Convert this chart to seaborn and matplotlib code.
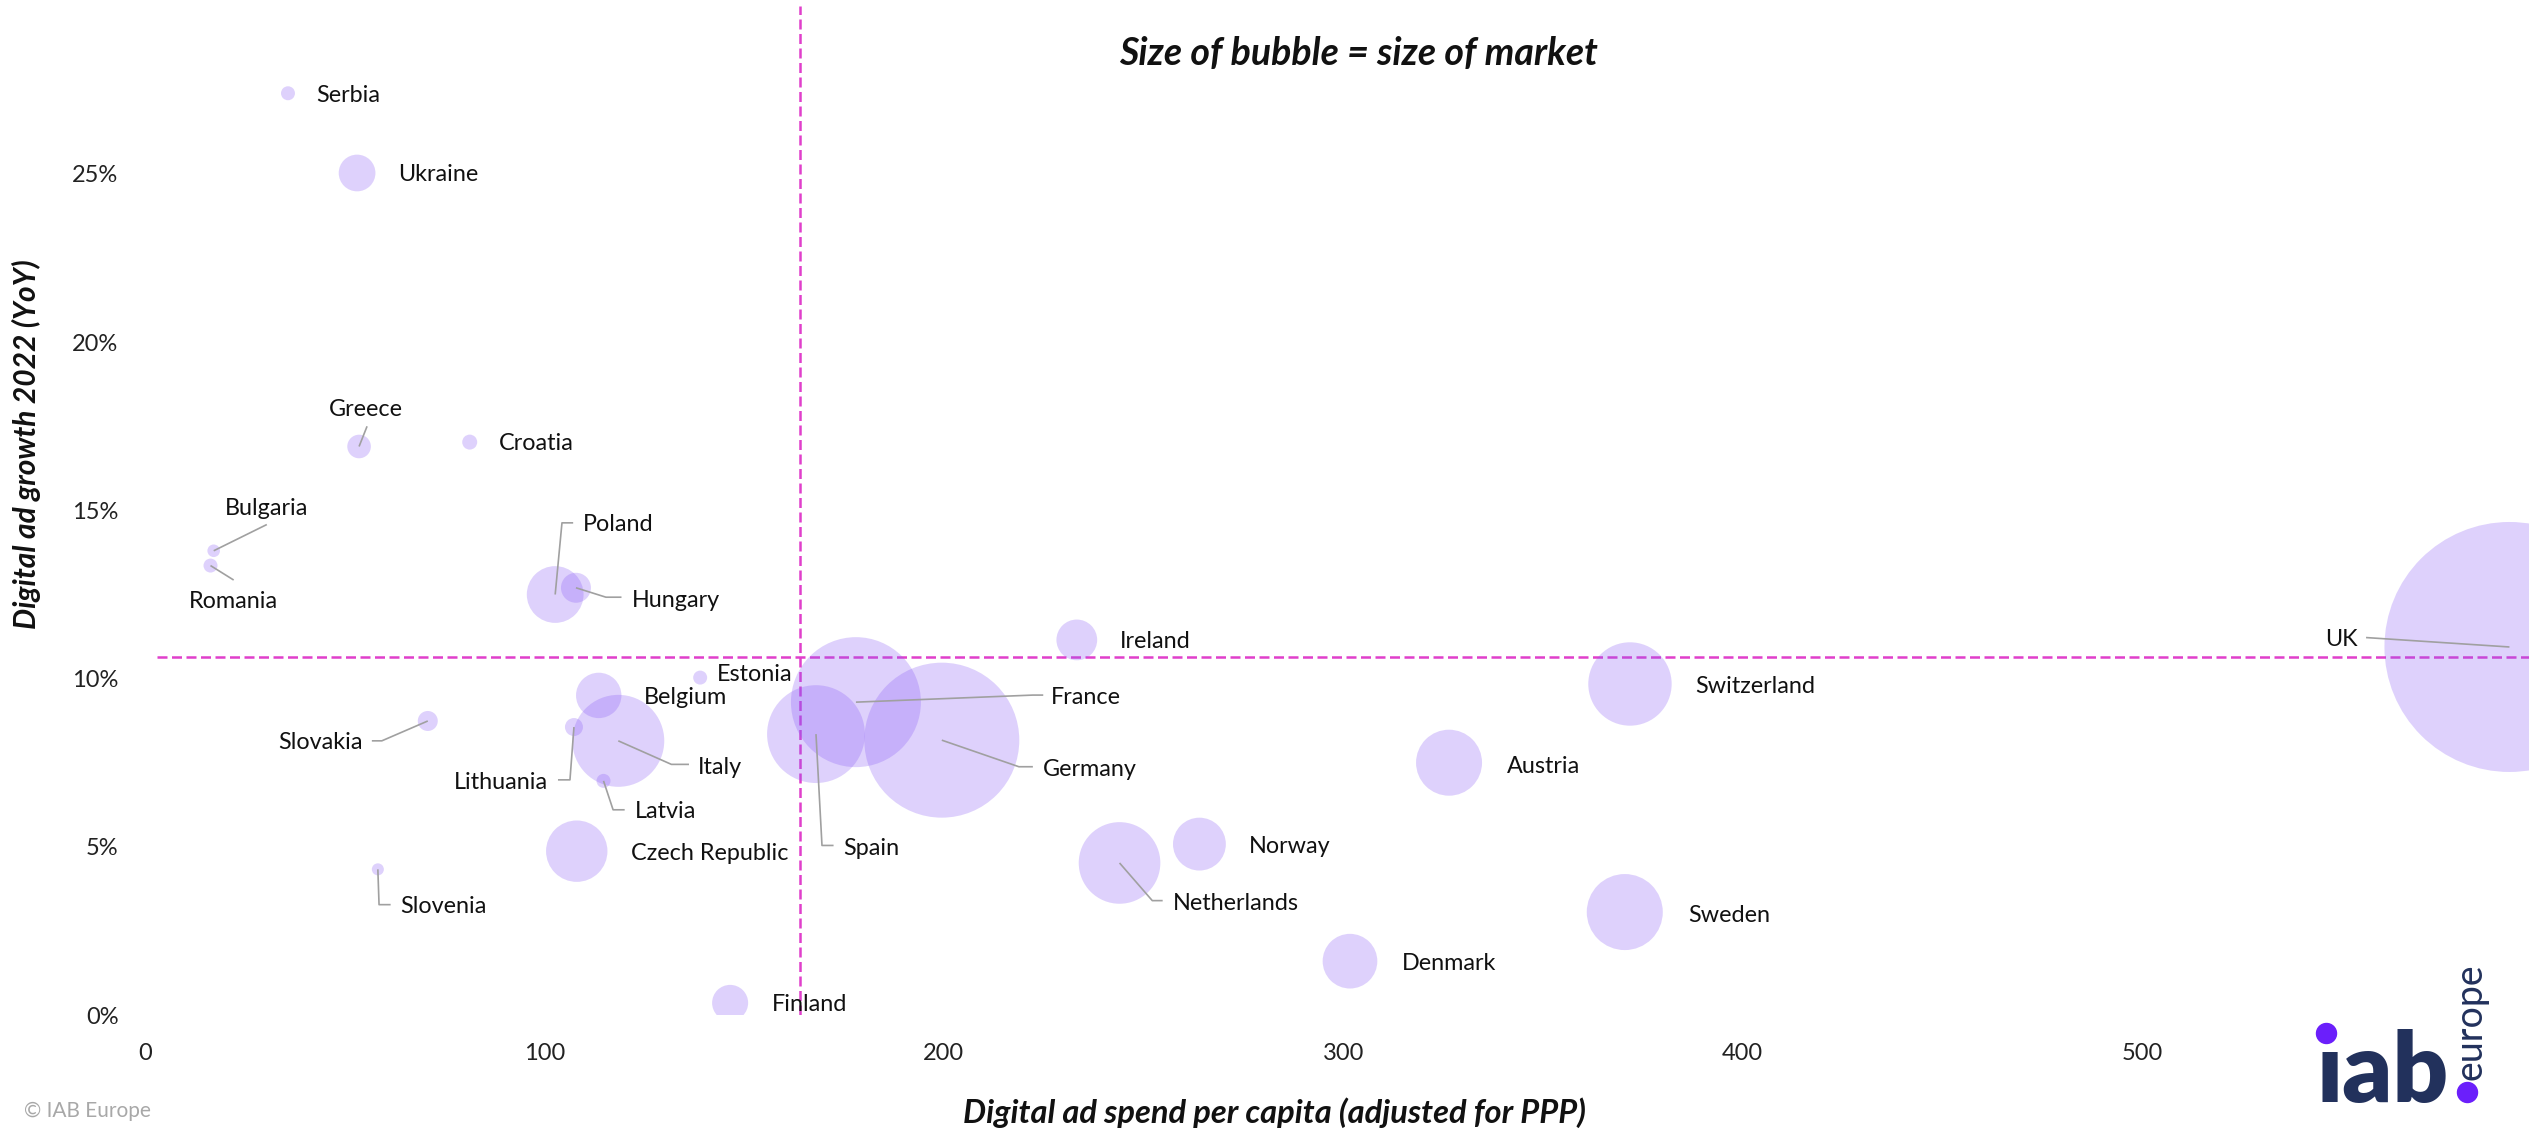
import matplotlib
matplotlib.use("Agg")
import matplotlib.pyplot as plt
from matplotlib.lines import Line2D
from matplotlib.ticker import FuncFormatter, FixedLocator
import seaborn as sns
import pandas as pd

# ---------------- data ----------------
countries = ["Serbia", "Ukraine", "Greece", "Croatia", "Bulgaria", "Romania", "Poland",
             "Hungary", "Ireland", "UK", "Estonia", "Belgium", "France", "Switzerland",
             "Slovakia", "Lithuania", "Spain", "Italy", "Germany", "Austria", "Latvia",
             "Norway", "Czech Republic", "Netherlands", "Slovenia", "Sweden", "Denmark",
             "Finland"]
spend_per_capita = [35.8, 53.1, 53.6, 81.3, 17.2, 16.4, 102.7,
                    107.9, 233.3, 592.0, 139.0, 113.6, 178.0, 371.8,
                    70.8, 107.4, 168.0, 118.5, 199.5, 326.5, 114.8,
                    264.0, 108.1, 244.0, 58.3, 370.5, 301.7,
                    146.5]
growth_pct = [27.4, 25.03, 16.9, 17.03, 13.8, 13.36, 12.5,
              12.7, 11.15, 10.94, 10.03, 9.5, 9.3, 9.84,
              8.74, 8.56, 8.35, 8.15, 8.17, 7.5, 6.96,
              5.08, 4.87, 4.52, 4.33, 3.06, 1.6,
              0.36]
market_size = [100, 690, 285, 115, 81, 100, 1650,
               460, 850, 32000, 100, 1055, 8650, 3560,
               205, 166, 4900, 4330, 12300, 2230, 100,
               1430, 1930, 3410, 74, 2960, 1530,
               665]
x_ticks = [0, 100, 200, 300, 400, 500]
y_ticks = [0, 5, 10, 15, 20, 25]
avg_spend = 164
avg_growth = 10.65

# ---------------- layout of labels (text position, alignment, leader elbows) ----------------
label_layout = {
    "Serbia": (42.9, 27.34, "left", []),
    "Ukraine": (63.5, 24.99, "left", []),
    "Greece": (55.3, 18.0, "center", [(55.6, 17.5)]),
    "Croatia": (88.6, 16.99, "left", []),
    "Bulgaria": (20.0, 15.07, "left", [(30.5, 14.58)]),
    "Romania": (11.0, 12.28, "left", [(22.2, 12.93)]),
    "Poland": (109.7, 14.58, "left", [(104.4, 14.63), (107.2, 14.63)]),
    "Hungary": (121.8, 12.32, "left", [(115.4, 12.42), (119.3, 12.42)]),
    "Ireland": (244.1, 11.09, "left", []),
    "UK": (553.9, 11.17, "right", [(556.1, 11.22)]),
    "Estonia": (143.1, 10.12, "left", []),
    "Belgium": (124.9, 9.45, "left", []),
    "France": (226.8, 9.44, "left", [(222.3, 9.51), (224.9, 9.51)]),
    "Switzerland": (388.1, 9.76, "left", []),
    "Slovakia": (54.5, 8.09, "right", [(59.3, 8.15), (56.8, 8.15)]),
    "Lithuania": (100.9, 6.9, "right", [(106.4, 6.99), (103.4, 6.99)]),
    "Spain": (174.9, 4.96, "left", [(169.5, 5.04), (172.4, 5.04)]),
    "Italy": (138.5, 7.35, "left", [(131.8, 7.45), (136.2, 7.45)]),
    "Germany": (224.8, 7.3, "left", [(218.8, 7.38), (222.3, 7.38)]),
    "Austria": (340.9, 7.4, "left", []),
    "Latvia": (122.7, 6.06, "left", [(117.2, 6.10), (120.1, 6.10)]),
    "Norway": (276.5, 5.02, "left", []),
    "Czech Republic": (121.8, 4.8, "left", []),
    "Netherlands": (257.3, 3.31, "left", [(252.2, 3.40), (254.8, 3.40)]),
    "Slovenia": (63.8, 3.24, "left", [(58.6, 3.28), (61.5, 3.28)]),
    "Sweden": (386.4, 2.95, "left", []),
    "Denmark": (314.6, 1.53, "left", []),
    "Finland": (157.0, 0.3, "left", []),
}

df = pd.DataFrame({"country": countries, "spend": spend_per_capita,
                   "growth": growth_pct, "market": market_size})

# ---------------- style ----------------
sns.set_theme(style="white")
FONT = ["Lato", "DejaVu Sans"]
plt.rcParams["font.family"] = FONT

BUBBLE = "#8a5cf5"
REF = "#E03FCB"
LEADER = "#A0A0A0"
NAVY = "#22315C"
PURPLE = "#6B1FFB"

W, H = 2529, 1131
fig = plt.figure(figsize=(W / 100, H / 100), dpi=100)
x0_px, y0_px = 145, 1015
px_per_unit_x = 3.994
px_per_pct = 33.64
xmax = (W - x0_px) / px_per_unit_x
ymax = 30
ax = fig.add_axes([x0_px / W, (H - y0_px) / H, (W - x0_px) / W, ymax * px_per_pct / H])

ax.axvline(avg_spend, color=REF, lw=1.8, ls=(0, (4, 1.8)), zorder=1)
ax.axhline(avg_growth, xmin=0.005, color=REF, lw=1.8, ls=(0, (4, 1.8)), zorder=1)

max_area = (2 * 125 * 0.72) ** 2
sns.scatterplot(data=df, x="spend", y="growth", size="market",
                sizes=(0, max_area), size_norm=(0, 32000),
                color=BUBBLE, alpha=0.28, linewidth=0, legend=False,
                ax=ax, zorder=2)

for name, sx, gy in zip(countries, spend_per_capita, growth_pct):
    tx, ty, ha, elbows = label_layout[name]
    if elbows:
        xs = [sx] + [p[0] for p in elbows]
        ys = [gy] + [p[1] for p in elbows]
        ax.plot(xs, ys, color=LEADER, lw=1.2, zorder=3, solid_capstyle="butt")
    ax.text(tx, ty, name, ha=ha, va="center", fontsize=16.8, color="#111111", zorder=4)

ax.set_xlim(0, xmax)
ax.set_ylim(0, ymax)
ax.xaxis.set_major_locator(FixedLocator(x_ticks))
ax.yaxis.set_major_locator(FixedLocator(y_ticks))
ax.yaxis.set_major_formatter(FuncFormatter(lambda v, p: f"{v:.0f}%"))
ax.tick_params(axis="both", length=0, labelsize=17, colors="#222222")
ax.tick_params(axis="y", pad=19)
ax.tick_params(axis="x", pad=20)
ax.set_xlabel("")
ax.set_ylabel("")
for s in ax.spines.values():
    s.set_visible(False)
ax.grid(False)
ax.set_facecolor("none")

# titles / labels
fig.text(0.537, 0.953, "Size of bubble = size of market", ha="center", va="center",
         fontsize=27, fontweight="bold", fontstyle="italic", color="#111111")
fig.text(0.504, 0.016, "Digital ad spend per capita (adjusted for PPP)", ha="center",
         va="center", fontsize=23.5, fontweight="bold", fontstyle="italic", color="#111111")
fig.text(0.0105, 0.607, "Digital ad growth 2022 (YoY)", rotation=90, ha="center",
         va="center", fontsize=21.5, fontweight="bold", fontstyle="italic", color="#111111")
fig.text(24 / W, 1 - 1111 / H, "© IAB Europe", ha="left", va="center",
         fontsize=15, color="#A8A8A8")

# logo
fig.text(2317 / W, 1 - 1102 / H, "ıab", ha="left", va="baseline", fontsize=70,
         fontweight="heavy", color=NAVY, family=FONT)
fig.add_artist(Line2D([2326 / W], [1 - 1033 / H], marker="o", markersize=14.4,
                      color=PURPLE, linestyle="none", transform=fig.transFigure))
fig.add_artist(Line2D([2467 / W], [1 - 1092 / H], marker="o", markersize=14.4,
                      color=PURPLE, linestyle="none", transform=fig.transFigure))
fig.text(2470 / W, 1 - 1080 / H, "europe", rotation=90, ha="center", va="bottom",
         fontsize=27, color=NAVY, family=FONT)

fig.savefig("out.png", dpi=100)
